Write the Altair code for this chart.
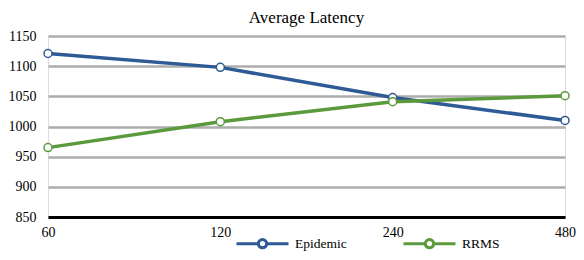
import altair as alt
import pandas as pd

x_labels = ["60", "120", "240", "480"]
series_names = ["Epidemic", "RRMS"]
epidemic = [1121, 1098, 1048, 1010]
rrms = [965, 1008, 1041, 1051]
colors = ["#2E5A95", "#5B9A3C"]
y_ticks = [850, 900, 950, 1000, 1050, 1100, 1150]

rows = []
for name, vals in zip(series_names, [epidemic, rrms]):
    for xl, v in zip(x_labels, vals):
        rows.append({"x": xl, "value": v, "series": name})
df = pd.DataFrame(rows)

FONT = "Liberation Serif"

legend_path = ("M-1,0 L-0.16,0 M0.16,0 L1,0 "
               "M-0.16,0 A0.16,0.16 0 1,1 0.16,0 A0.16,0.16 0 1,1 -0.16,0 Z")

x_enc = alt.X("x:O", sort=x_labels, scale=alt.Scale(padding=0),
              axis=alt.Axis(title=None, labelAngle=0, ticks=False, domain=True,
                            domainColor="#000000", domainWidth=3,
                            labelPadding=8, labelFontSize=14, labelFont=FONT,
                            labelColor="#000000", grid=False))
y_enc = alt.Y("value:Q", scale=alt.Scale(domain=[850, 1150], nice=False, zero=False),
              axis=alt.Axis(title=None, values=y_ticks, format="d", ticks=False, domain=False,
                            labelPadding=12, labelFontSize=14, labelFont=FONT,
                            labelColor="#000000", grid=True, gridColor="#ADADAD",
                            gridWidth=2.5))
color_enc = alt.Color("series:N", sort=series_names,
                      scale=alt.Scale(domain=series_names, range=colors),
                      legend=alt.Legend(title=None, orient="none", direction="horizontal",
                                        legendX=187, legendY=180,
                                        symbolType=legend_path, symbolSize=2704,
                                        symbolStrokeWidth=3, symbolFillColor="#FFFFFF",
                                        labelFont=FONT, labelFontSize=13.5,
                                        labelColor="#000000", labelOffset=5,
                                        columnPadding=50))

line = alt.Chart(df).mark_line(strokeWidth=3.5).encode(x=x_enc, y=y_enc, color=color_enc)
pts = alt.Chart(df).mark_point(filled=True, fill="#FFFFFF", size=64, strokeWidth=1.5,
                               opacity=1).encode(
    x=x_enc, y=y_enc,
    stroke=alt.Stroke("series:N", sort=series_names,
                      scale=alt.Scale(domain=series_names, range=colors), legend=None))

chart = alt.layer(line, pts).properties(
    width=517, height=181,
    autosize=alt.AutoSizeParams(type="none"),
    padding={"left": 40, "top": 28, "right": 11, "bottom": 35},
    title=alt.TitleParams("Average Latency", font=FONT, fontSize=17, fontWeight="normal",
                          color="#000000", anchor="middle", offset=2),
).configure_view(stroke=None).configure(background="#FFFFFF", font=FONT)

chart.save("out.html", embed_options={"renderer": "svg", "actions": False})
